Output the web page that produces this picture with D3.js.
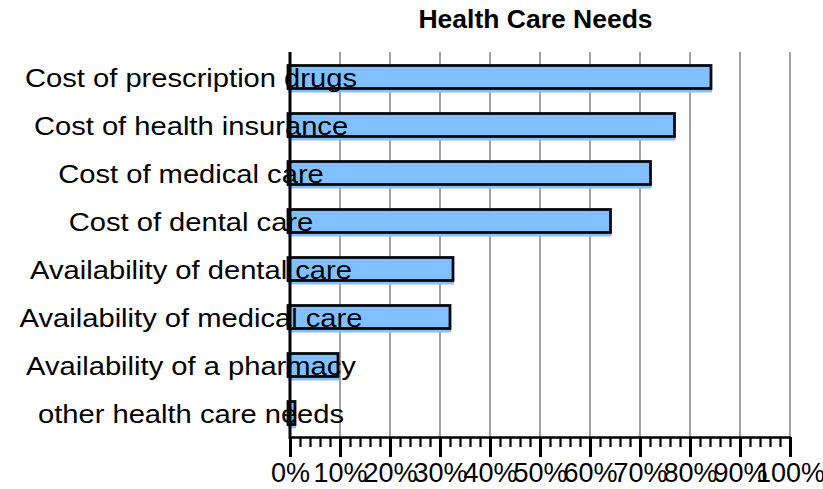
<!DOCTYPE html>
<html>
<head>
<meta charset="utf-8">
<script src="https://cdn.jsdelivr.net/npm/d3@7/dist/d3.min.js"></script>
<style>
  html, body { margin: 0; padding: 0; background: #fff; }
  svg { display: block; }
  text { font-family: "Liberation Sans", Arial, sans-serif; fill: #000; }
</style>
</head>
<body>
<svg id="chart" width="823" height="489"></svg>
<script>
// Survey responses: share of respondents naming each health care need
const chartTitle = "Health Care Needs";
const categories = [
  "Cost of prescription drugs",
  "Cost of health insurance",
  "Cost of medical care",
  "Cost of dental care",
  "Availability of dental care",
  "Availability of medical care",
  "Availability of a pharmacy",
  "other health care needs"
];
const percents = [84.2, 76.9, 72.1, 64.1, 32.6, 32.0, 9.6, 1.0];
const majorTicks = [0, 10, 20, 30, 40, 50, 60, 70, 80, 90, 100];
const tickLabels = ["0%", "10%", "20%", "30%", "40%", "50%", "60%", "70%", "80%", "90%", "100%"];
const minorTicks = d3.range(0, 101, 2);

const svg = d3.select("#chart");

const x = d3.scaleLinear().domain([0, 100]).range([290, 790]);
const y = d3.scaleBand().domain(categories).range([53, 437]).paddingInner(0.48).paddingOuter(0.24);
const plotTop = 52, plotBottom = 437;

// title
svg.append("text")
  .attr("x", 535.5).attr("y", 28)
  .attr("text-anchor", "middle")
  .style("font-weight", "bold").style("font-size", "26.5px")
  .text(chartTitle);

// vertical gridlines
svg.append("g").selectAll("line").data(majorTicks.slice(1)).join("line")
  .attr("x1", d => x(d)).attr("x2", d => x(d))
  .attr("y1", plotTop).attr("y2", plotBottom)
  .attr("stroke", "#7a7a7a").attr("stroke-width", 1.4);

// bars: light fill slightly offset below, dark outline on top
const bars = svg.append("g");
bars.selectAll("rect.fill").data(categories).join("rect")
  .attr("class", "fill")
  .attr("x", x(0) - 2)
  .attr("y", d => y(d))
  .attr("width", (d, i) => x(percents[i]) - x(0) + 3)
  .attr("height", y.bandwidth() + 3)
  .attr("fill", "#80c0ff");
bars.selectAll("rect.edge").data(categories).join("rect")
  .attr("class", "edge")
  .attr("x", x(0) - 2)
  .attr("y", d => y(d) + 1)
  .attr("width", (d, i) => Math.max(0, x(percents[i]) - x(0) + 2))
  .attr("height", y.bandwidth() - 2)
  .attr("fill", "none")
  .attr("stroke", "#05080f").attr("stroke-width", 2.8);

// y axis line
svg.append("line")
  .attr("x1", x(0)).attr("x2", x(0))
  .attr("y1", plotTop).attr("y2", plotBottom + 2)
  .attr("stroke", "#000").attr("stroke-width", 3);

// x axis: minor and major ticks
const xAxisG = svg.append("g").attr("transform", `translate(0,${plotBottom})`);
xAxisG.append("g")
  .call(d3.axisBottom(x).tickValues(minorTicks).tickSize(10).tickFormat(""))
  .call(g => g.select(".domain").remove())
  .call(g => g.selectAll(".tick line").attr("stroke", "#000").attr("stroke-width", 2.2));
xAxisG.append("g")
  .call(d3.axisBottom(x).tickValues(majorTicks).tickSize(20).tickSizeOuter(0)
    .tickFormat((d, i) => tickLabels[i]))
  .call(g => g.select(".domain").attr("stroke", "#000").attr("stroke-width", 2.6))
  .call(g => g.selectAll(".tick line").attr("stroke", "#000").attr("stroke-width", 3))
  .call(g => g.selectAll(".tick text")
    .attr("y", 45).attr("dy", null)
    .style("font-size", "27px").style("font-family", "'Liberation Sans', Arial, sans-serif")
    .attr("fill", "#000"));

// category labels, drawn over the bars
svg.append("g").selectAll("text").data(categories).join("text")
  .attr("transform", d => `translate(191,${y(d) + y.bandwidth() / 2 + 10}) scale(1.1,1)`)
  .attr("text-anchor", "middle")
  .style("font-size", "26.5px")
  .text(d => d);
</script>
</body>
</html>
